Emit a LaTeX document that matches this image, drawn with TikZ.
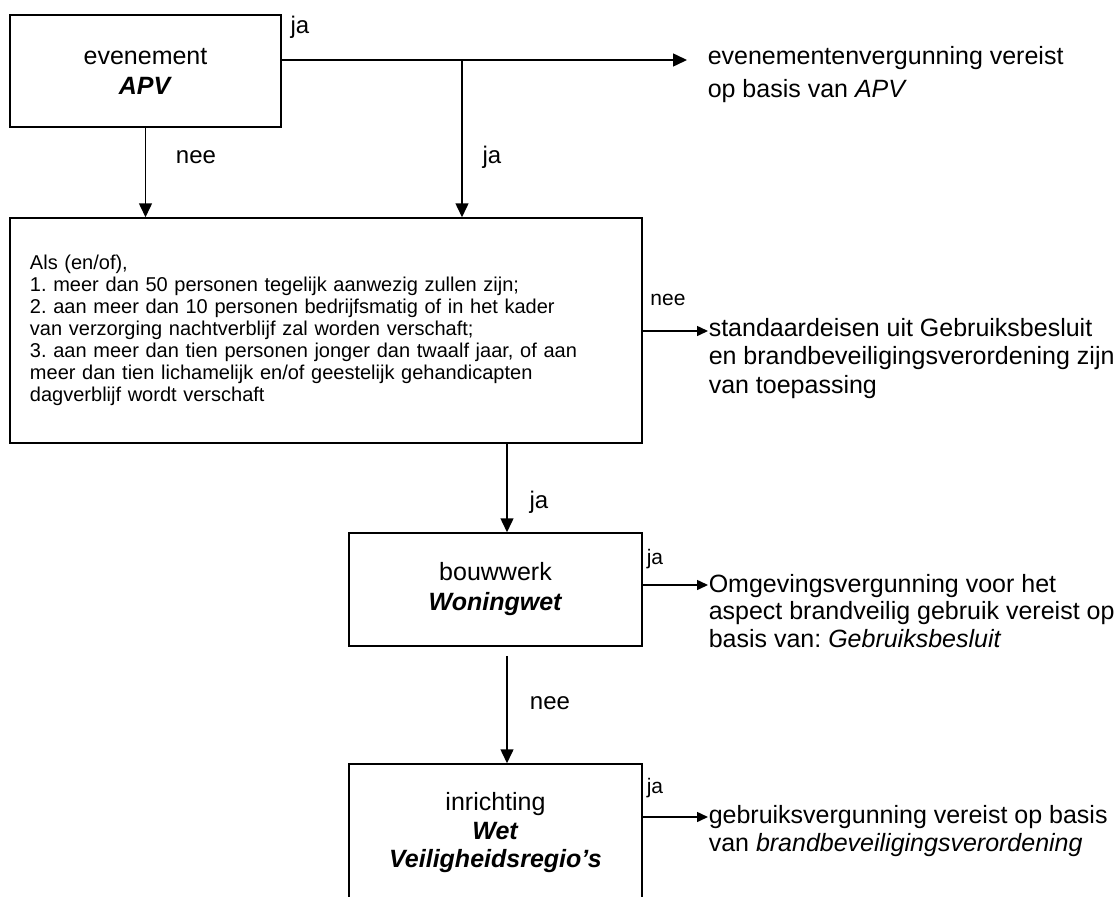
\documentclass[tikz,border=0pt]{standalone}
\usepackage{fontspec}
\setmainfont{Liberation Sans}
\usetikzlibrary{arrows.meta}
\frenchspacing

\begin{document}
\begin{tikzpicture}[x=1pt, y=-1pt, line width=1.5pt, >={Triangle[length=14pt,width=13pt]}]
		\tikzstyle{box} = [draw, line width=1.5pt, inner sep=0pt, align=center, font=\fontsize{25}{30}\selectfont]
		\tikzstyle{note} = [anchor=west, align=left, inner sep=0pt, font=\fontsize{25}{28}\selectfont]
		\tikzstyle{tag} = [inner sep=0pt, font=\fontsize{24}{24}\selectfont]
		\tikzstyle{sidetag} = [inner sep=0pt, font=\fontsize{21}{21}\selectfont]
		\tikzstyle{short} = [-{Triangle[length=11pt,width=10pt]}]

		\clip (0,0) rectangle (1117,897);

		% beslisvakken
		\node[box, minimum width=271pt, minimum height=112pt] (evt) at (145.5,71) {evenement\\\textbf{\textit{APV}}};
		\node[box, minimum width=632pt, minimum height=225pt, text width=592pt, inner xsep=20pt, align=left,
			font=\fontsize{20}{22}\selectfont] (cond) at (326,330.5)
			{Als (en/of),\\
			1. meer dan 50 personen tegelijk aanwezig zullen zijn;\\
			2. aan meer dan 10 personen bedrijfsmatig of in het kader\\
			van verzorging nachtverblijf zal worden verschaft;\\
			3. aan meer dan tien personen jonger dan twaalf jaar, of aan\\
			meer dan tien lichamelijk en/of geestelijk gehandicapten\\
			dagverblijf wordt verschaft};
		\node[box, minimum width=293pt, minimum height=113pt] (bw) at (495.5,589.5) {bouwwerk\\\textbf{\textit{Woningwet}}};
		\node[box, minimum width=293pt, minimum height=138pt, font=\fontsize{25}{28.5}\selectfont] (inr) at (495.5,833)
			{inrichting\\\textbf{\textit{Wet}}\\\textbf{\textit{Veiligheidsregio’s}}};

		% uitkomsten
		\coordinate (t1) at (687,60);
		\coordinate (split) at (462,60);
		\coordinate (t2) at (708,331);
		\coordinate (t3) at (708,585);
		\coordinate (t4) at (708,817);
		\coordinate (spine) at (507,0);

		\node[note, font=\fontsize{25}{33}\selectfont] (uit1) at (707,75) {evenementenvergunning vereist\\op basis van \textit{APV}};
		\node[note, font=\fontsize{25}{28.5}\selectfont] (uit2) at (708,358.5) {standaardeisen uit Gebruiksbesluit\\en brandbeveiligingsverordening zijn\\van toepassing};
		\node[note, font=\fontsize{25}{27.5}\selectfont] (uit3) at (708,611) {Omgevingsvergunning voor het\\aspect brandveilig gebruik vereist op\\basis van: \textit{Gebruiksbesluit}};
		\node[note] (uit4) at (708,831) {gebruiksvergunning vereist op basis\\van \textit{brandbeveiligingsverordening}};

		% labels
		\node[tag] (ja1) at (300,27) {ja};
		\node[tag] (nee1) at (196,157) {nee};
		\node[tag] (ja2) at (492,157) {ja};
		\node[sidetag] (nee2) at (668,300) {nee};
		\node[tag] (ja3) at (539,502) {ja};
		\node[sidetag] (ja4) at (655,559) {ja};
		\node[tag] (nee3) at (550,703) {nee};
		\node[sidetag] (ja5) at (655,788) {ja};

		\path[->]
		(evt.east |- t1) edge (t1)
		(split) edge (split |- cond.north)
		(evt.south) edge (evt.south |- cond.north)
		(cond.south -| spine) edge (bw.north -| spine)
		([yshift=-9pt]bw.south -| spine) edge (inr.north -| spine)
		;
		\path[short]
		(cond.east |- t2) edge (t2)
		(bw.east |- t3) edge (t3)
		(inr.east |- t4) edge (t4)
		;

		\end{tikzpicture}
\end{document}
